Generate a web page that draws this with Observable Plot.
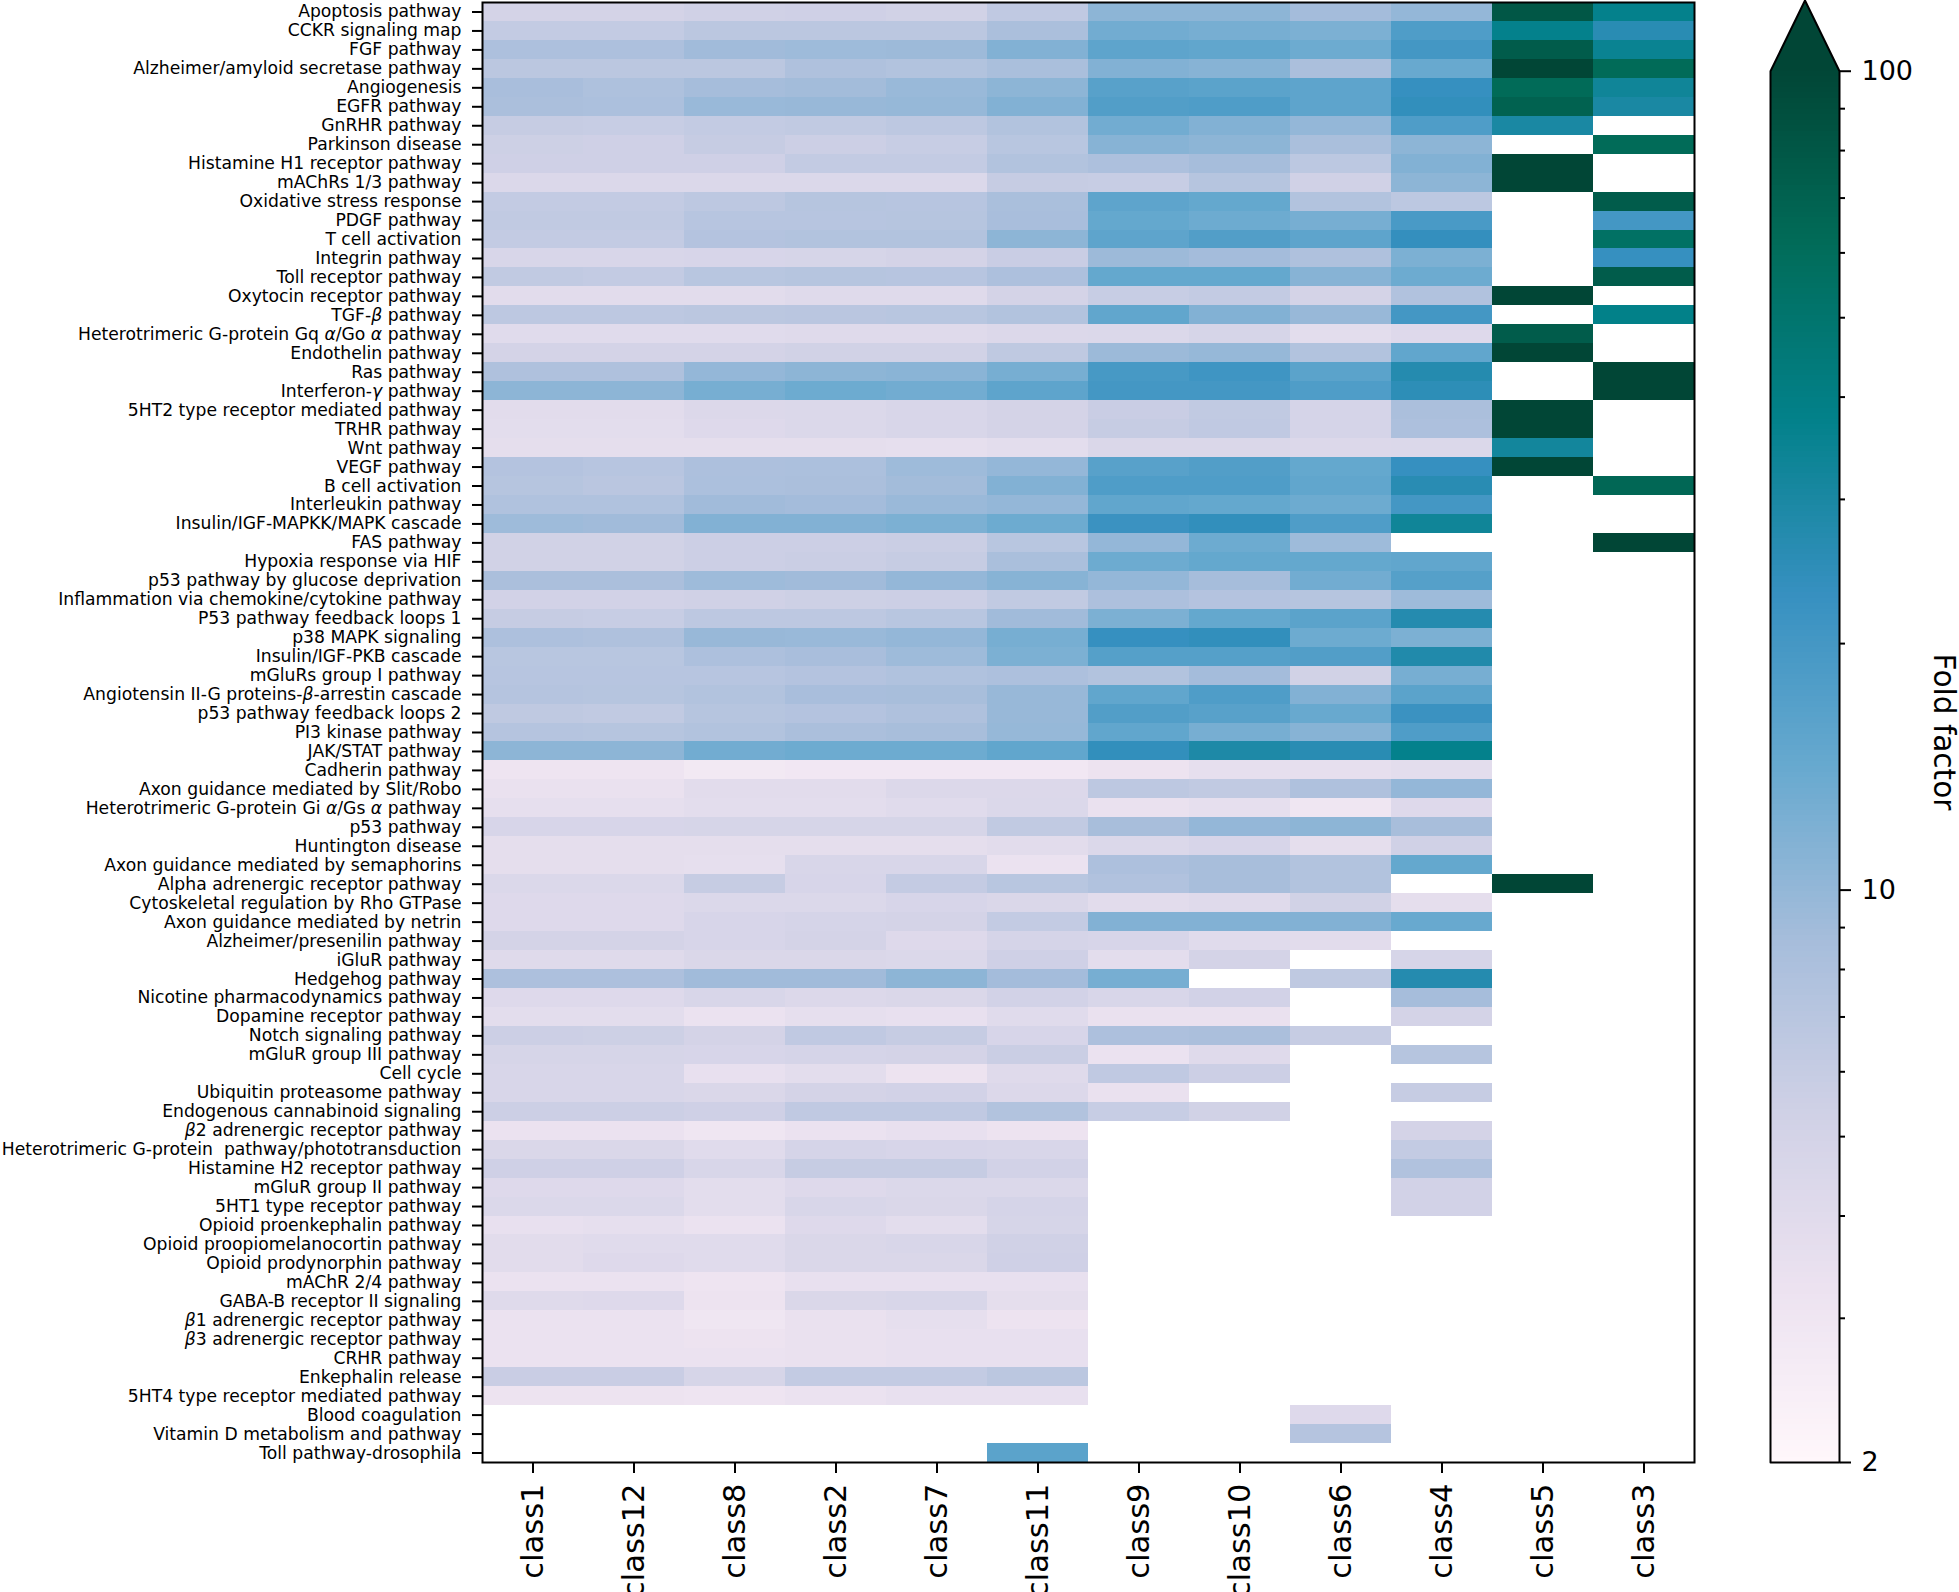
<!DOCTYPE html>
<html>
<head>
<meta charset="utf-8">
<script src="https://cdn.jsdelivr.net/npm/d3@7"></script>
<script src="https://cdn.jsdelivr.net/npm/@observablehq/plot@0.6"></script>
<style>
html,body{margin:0;padding:0;background:#fff;}
#chart{display:flex;flex-wrap:nowrap;width:1959px;height:1592px;overflow:hidden;}
#chart svg{display:block;flex:none;max-width:none;}
</style>
</head>
<body>
<div id="chart"></div>
<script>
const classes = ["class1","class12","class8","class2","class7","class11","class9","class10","class6","class4","class5","class3"];
const pathways = [
"Apoptosis pathway","CCKR signaling map","FGF pathway","Alzheimer/amyloid secretase pathway","Angiogenesis","EGFR pathway","GnRHR pathway","Parkinson disease","Histamine H1 receptor pathway","mAChRs 1/3 pathway","Oxidative stress response","PDGF pathway","T cell activation","Integrin pathway","Toll receptor pathway","Oxytocin receptor pathway","TGF-β pathway","Heterotrimeric G-protein Gq α/Go α pathway","Endothelin pathway","Ras pathway","Interferon-γ pathway","5HT2 type receptor mediated pathway","TRHR pathway","Wnt pathway","VEGF pathway","B cell activation","Interleukin pathway","Insulin/IGF-MAPKK/MAPK cascade","FAS pathway","Hypoxia response via HIF","p53 pathway by glucose deprivation","Inflammation via chemokine/cytokine pathway","P53 pathway feedback loops 1","p38 MAPK signaling","Insulin/IGF-PKB cascade","mGluRs group I pathway","Angiotensin II-G proteins-β-arrestin cascade","p53 pathway feedback loops 2","PI3 kinase pathway","JAK/STAT pathway","Cadherin pathway","Axon guidance mediated by Slit/Robo","Heterotrimeric G-protein Gi α/Gs α pathway","p53 pathway","Huntington disease","Axon guidance mediated by semaphorins","Alpha adrenergic receptor pathway","Cytoskeletal regulation by Rho GTPase","Axon guidance mediated by netrin","Alzheimer/presenilin pathway","iGluR pathway","Hedgehog pathway","Nicotine pharmacodynamics pathway","Dopamine receptor pathway","Notch signaling pathway","mGluR group III pathway","Cell cycle","Ubiquitin proteasome pathway","Endogenous cannabinoid signaling","β2 adrenergic receptor pathway","Heterotrimeric G-protein\u00a0 pathway/phototransduction","Histamine H2 receptor pathway","mGluR group II pathway","5HT1 type receptor pathway","Opioid proenkephalin pathway","Opioid proopiomelanocortin pathway","Opioid prodynorphin pathway","mAChR 2/4 pathway","GABA-B receptor II signaling","β1 adrenergic receptor pathway","β3 adrenergic receptor pathway","CRHR pathway","Enkephalin release","5HT4 type receptor mediated pathway","Blood coagulation","Vitamin D metabolism and pathway","Toll pathway-drosophila"];
const _ = null;
const foldFactors = [
[5.0,5.0,5.3,5.4,5.2,6.4,10.5,10.5,8.8,10,80,37],
[6.2,6.2,6.8,6.8,6.8,8.2,13,12.5,12,18,37,26],
[8.0,8.0,9,9.2,9.3,11.5,15.5,15,13.5,20,75,35],
[6.8,6.8,6.8,7.8,7.5,8.3,11.5,11,8.2,14,100,62],
[8.4,7.9,8.7,8.9,9.6,10.5,16.5,16,15.5,23,62,33],
[8.2,8.1,9.6,9.7,9.8,11.5,17.5,18,15.5,24,70,30],
[6,5.9,6.2,6.3,6.6,7.5,13,11.5,10,18,30,_],
[5.5,5.4,6,5.6,5.9,7,11,10.5,8.3,10.5,_,62],
[5.4,5.4,5.4,6.2,6.2,7.5,8,8.7,6.7,11.5,100,_],
[4.4,4.4,4.4,4.4,4.4,6,5.9,7.2,5.3,10.5,100,_],
[6.2,6.2,6.6,7.2,7.1,8.3,15.5,14.5,7.5,6.7,_,75],
[6.3,6.3,7.1,7.1,7.2,8.4,14.5,13.5,12.5,19,_,20],
[6.2,6.2,7.4,7.5,7.5,10.5,15.5,17.5,15.5,23.5,_,55],
[4.6,4.6,4.7,4.8,5,5.8,9.3,8.8,7.8,12,_,23],
[6.3,6.2,7,7.2,7.1,8,14.5,14.5,11,13.5,_,75],
[3.9,3.9,3.9,4.1,4.1,5,5.9,6.2,5,7.6,100,_],
[6.6,6.6,6.8,6.9,7,7.5,15,11.5,9.7,20,_,38],
[4.0,4.0,4,4.1,4.1,4.3,4.4,4.8,3.8,4.2,75,_],
[5,5,5,5.2,5.2,6.5,9.4,9.8,7.5,15,100,_],
[7.8,7.8,10,10.5,10.8,12.5,19.5,21,16,27,_,100],
[10.5,10.5,12.5,13.5,13,15.5,20,20,18,25,_,100],
[3.9,3.9,4.3,4.4,4.6,5,5.8,6.3,4.9,8.2,100,_],
[3.8,3.8,4.2,4.4,4.6,5,6,6.4,4.9,8,100,_],
[3.7,3.7,3.7,3.7,3.6,3.8,4.5,4.5,4.3,4.4,32,_],
[7.4,7.1,8,8.1,9.2,10,16.5,17.5,14.5,23,100,_],
[7.2,6.9,8.1,8.2,8.9,11.5,18,18,15,26,_,65],
[7.7,7.7,9,8.8,9.5,10,15,14.5,13.5,20,_,_],
[9.2,9,11.5,11.5,12,13.5,22,24,18,33,_,_],
[5.2,5.2,5.6,5.6,5.7,7,10,13.5,9.2,_,_,100],
[5.2,5.2,5.6,5.7,6,8.3,13.5,14.5,14.5,15,_,_],
[8.2,8.2,9.2,9,10,11,10,8.7,13,17,_,_],
[5.1,5.1,5.3,5.5,5.6,6.3,8,7.4,7.2,9.2,_,_],
[6,5.9,6.6,6.6,7,9,12,14.5,16,27,_,_],
[8.0,7.8,9.7,9.6,10,12.5,23,24,13.5,12,_,_],
[7.0,7.0,8,8.4,9.2,12,17,17,17.5,28,_,_],
[7.1,7.1,7.1,7.4,7.7,8,7.5,8.8,5.2,12.5,_,_],
[7.3,7.2,7.5,8.4,8.5,9.7,15,18,11.5,16,_,_],
[6.5,6.3,7.2,7.4,7.8,9.7,17.5,16.5,14,22,_,_],
[7.3,7.2,7.5,8.2,8.5,9.8,15,12.5,11,18,_,_],
[10.5,10.5,13,13.5,13.5,15,24,29,26,37,_,_],
[3.1,3.1,2.8,2.9,2.9,2.9,3.2,3.6,3.6,3.8,_,_],
[3.4,3.4,3.9,3.9,4.3,4.3,6.6,6.3,7.8,10,_,_],
[3.6,3.6,3.8,3.8,4,4.4,3.4,3.6,3.0,4.2,_,_],
[4.7,4.7,4.8,4.8,4.8,6.3,8.5,10,10.5,8.5,_,_],
[3.7,3.7,3.7,3.7,3.7,3.9,4.4,4.7,3.7,5.3,_,_],
[3.7,3.7,3.6,4.6,4.6,3.3,8,8.5,7.5,14.5,_,_],
[4.4,4.4,6,4.7,6.1,7,7.6,8.5,7.5,_,100,_],
[4.2,4.2,4.4,4.4,4.7,4.5,3.9,4.1,5.2,3.7,_,_],
[4.2,4.2,4.7,4.9,5,6.2,11.5,11.5,11.5,14,_,_],
[5,5,4.7,5,4.2,4.9,4.7,4,3.9,_,_,_],
[4.1,4.1,4.5,4.5,4.4,5.4,3.8,5,_,4.8,_,_],
[8.0,8.0,9,9,10.5,8.8,12.5,_,6.5,27,_,_],
[4.2,4.2,4.6,4.3,4.5,5.1,4.6,5.1,_,8.7,_,_],
[3.8,3.8,3.3,3.6,3.5,4,3.4,3.4,_,5,_,_],
[5.6,5.5,5,6.4,6,4.7,8,8.2,6,_,_,_],
[4.8,4.8,4.7,4.9,5,5.7,3.3,4.1,_,7.2,_,_],
[4.6,4.6,3.5,3.8,3.2,4.1,6.4,5.6,_,_,_,_],
[4.6,4.6,4.5,5,5.1,4.3,3.4,_,_,6.0,_,_],
[5.6,5.6,5.4,6.4,6.4,7.5,5.9,5.2,_,_,_,_],
[3.3,3.3,3,3.3,3.5,3.2,_,_,_,5,_,_],
[4.5,4.5,4,4.9,4.7,4.6,_,_,_,6.2,_,_],
[5.4,5.4,4.6,6,6,5.1,_,_,_,7.6,_,_],
[4.2,4.2,3.8,4.2,4.4,4.4,_,_,_,5.1,_,_],
[4.4,4.4,3.8,4.6,4.5,4.9,_,_,_,5.1,_,_],
[3.5,3.6,3.3,4.2,3.8,4.8,_,_,_,_,_,_],
[3.9,4,4,4.5,4.6,5.3,_,_,_,_,_,_],
[3.9,4.2,4,4.5,4.5,5.4,_,_,_,_,_,_],
[3.3,3.3,3.1,3.5,3.5,3.5,_,_,_,_,_,_],
[4.1,4.2,3.2,4.5,4.6,3.7,_,_,_,_,_,_],
[3.3,3.3,3,3.4,3.6,3.2,_,_,_,_,_,_],
[3.3,3.3,3.2,3.4,3.5,3.5,_,_,_,_,_,_],
[3.3,3.3,3.3,3.4,3.5,3.5,_,_,_,_,_,_],
[5.8,5.8,4.8,6.2,6.2,6.8,_,_,_,_,_,_],
[3.2,3.2,3.1,3.3,3.5,3.5,_,_,_,_,_,_],
[_,_,_,_,_,_,_,_,4.2,_,_,_],
[_,_,_,_,_,_,_,_,7.3,_,_,_],
[_,_,_,_,_,16,_,_,_,_,_,_]
];
const majorTicks = [2,10,100];
const minorTicks = [3,4,5,6,7,8,9,20,30,40,50,60,70,80,90];
const colorStops = ["#fff7fb","#ece2f0","#d0d1e6","#a6bddb","#67a9cf","#3690c0","#02818a","#016c59","#014636"];
const colorDomain = [2,100];

const font = "DejaVu Sans";
const colorScale = {type:"log", domain:colorDomain, clamp:true, interpolate:d3.piecewise(d3.interpolateRgb, colorStops)};

const cells = [];
foldFactors.forEach((row,i)=>row.forEach((v,j)=>{ if(v!==null) cells.push({pathway:pathways[i],cls:classes[j],value:v}); }));

const heat = Plot.plot({
  width:1700, height:1592,
  marginLeft:482, marginRight:6, marginTop:2, marginBottom:130,
  style:{background:"#fff",fontFamily:font,overflow:"visible"},
  x:{domain:classes,padding:0,label:null},
  y:{domain:pathways,padding:0,label:null},
  color:colorScale,
  marks:[
    Plot.cell(cells,{x:"cls",y:"pathway",fill:"value",shapeRendering:"crispEdges"}),
    Plot.frame({stroke:"#000",strokeWidth:2}),
    Plot.axisY({anchor:"left",tickSize:10,tickPadding:11,fontSize:17.2,strokeWidth:2,stroke:"#000",fill:"#000",label:null}),
    Plot.axisX({anchor:"bottom",tickSize:11,tickPadding:10,tickRotate:-90,fontSize:30.5,strokeWidth:2,stroke:"#000",fill:"#000",label:null})
  ]
});

// colour-bar ramp: evenly spaced steps of the colour scale itself, not chart data
const rampSteps = 256;
const ramp = d3.range(rampSteps).map(i=>({
  lo:colorDomain[0]*Math.pow(colorDomain[1]/colorDomain[0],i/rampSteps),
  hi:colorDomain[0]*Math.pow(colorDomain[1]/colorDomain[0],(i+1)/rampSteps)
}));
const arrowTip = 122;
const arrow = [{x:0,y:100},{x:0.5,y:arrowTip},{x:1,y:100},{x:0,y:100}];
const outline = [{x:0,y:2},{x:0,y:100},{x:0.5,y:arrowTip},{x:1,y:100},{x:1,y:2},{x:0,y:2}];

const bar = Plot.plot({
  width:259, height:1592,
  marginLeft:70, marginRight:120, marginTop:0, marginBottom:130,
  style:{background:"#fff",fontFamily:font,overflow:"visible"},
  x:{domain:[0,1],label:null,axis:null},
  y:{type:"log",domain:[2,arrowTip],label:null},
  color:colorScale,
  marks:[
    Plot.line(arrow,{x:"x",y:"y",stroke:"none",fill:"#014636"}),
    Plot.rect(ramp,{x1:0,x2:1,y1:"lo",y2:"hi",fill:d=>Math.sqrt(d.lo*d.hi),shapeRendering:"crispEdges"}),
    Plot.line(outline,{x:"x",y:"y",stroke:"#000",strokeWidth:2,fill:"none",curve:"linear"}),
    Plot.axisY(majorTicks,{anchor:"right",tickSize:11,tickPadding:11,fontSize:27,strokeWidth:2,stroke:"#000",fill:"#000",tickFormat:d=>String(d),label:null}),
    Plot.axisY(minorTicks,{anchor:"right",tickSize:5,strokeWidth:2,stroke:"#000",fill:"none",label:null}),
    Plot.text(["Fold factor"],{x:1,y:[15.6],text:d=>d,rotate:90,dx:104,fontSize:29.5,fill:"#000"})
  ]
});

document.getElementById("chart").append(heat,bar);

// Greek letters are set in italics in the reference labels
d3.select(heat).selectAll("text").each(function(){
  const s=this.textContent;
  if(!/[αβγ]/.test(s)) return;
  const el=d3.select(this); el.text(null);
  s.split(/([αβγ])/).forEach(part=>{ if(part) el.append("tspan").attr("font-style",/[αβγ]/.test(part)?"italic":null).text(part); });
});
</script>
</body>
</html>
